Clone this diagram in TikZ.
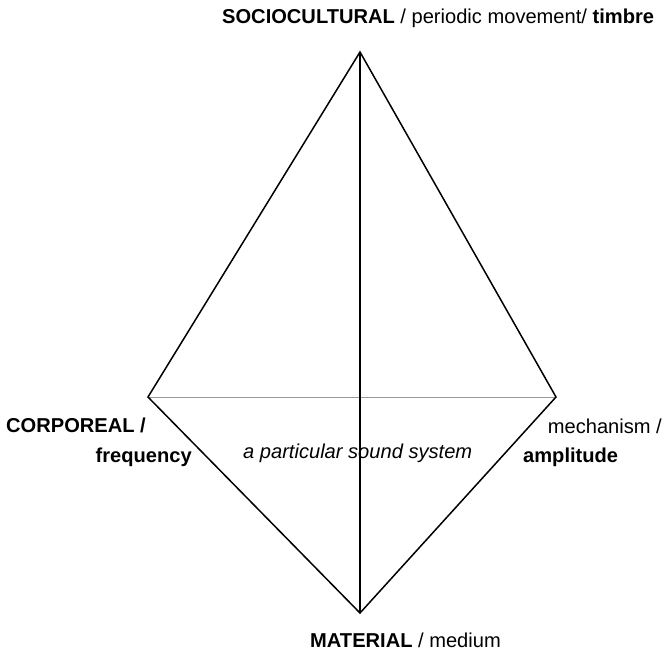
\documentclass[tikz,border=0pt]{standalone}
\usepackage{fontspec}
\setmainfont{Liberation Sans}
\begin{document}
\begin{tikzpicture}[x=1pt,y=-1pt,
  edge/.style={line width=1.5pt,black,line join=miter},
  base/.style={line width=0.9pt,black!40},
  lbl/.style={inner sep=0pt,font=\fontsize{20.1}{24}\selectfont}]
\useasboundingbox (0,0) rectangle (670,654);
% vertices of the tetrahedron
\coordinate (T) at (360,52);
\coordinate (L) at (148,397);
\coordinate (R) at (556,397);
\coordinate (B) at (360,613);
% hidden base edge
\draw[base] (L) -- (R);
% visible edges
\draw[edge] (L) -- (T) -- (R) -- (B) -- cycle;
\draw[edge] (T) -- (B);
% labels
\node[lbl,anchor=base west] (top) at (222,23) {\textbf{SOCIOCULTURAL} / periodic movement/ \textbf{timbre}};
\node[lbl,anchor=base west] (corp) at (6,432) {\textbf{CORPOREAL /}};
\node[lbl,anchor=base east] (freq) at (192,462) {\textbf{frequency}};
\node[lbl,anchor=base east] (mech) at (662,433) {mechanism /};
\node[lbl,anchor=base west] (ampl) at (523,462) {\textbf{amplitude}};
\node[lbl,anchor=base west] (sys) at (243,458) {\itshape a particular sound system};
\node[lbl,anchor=base west] (mat) at (310,647) {\textbf{MATERIAL} / medium};
\end{tikzpicture}
\end{document}
